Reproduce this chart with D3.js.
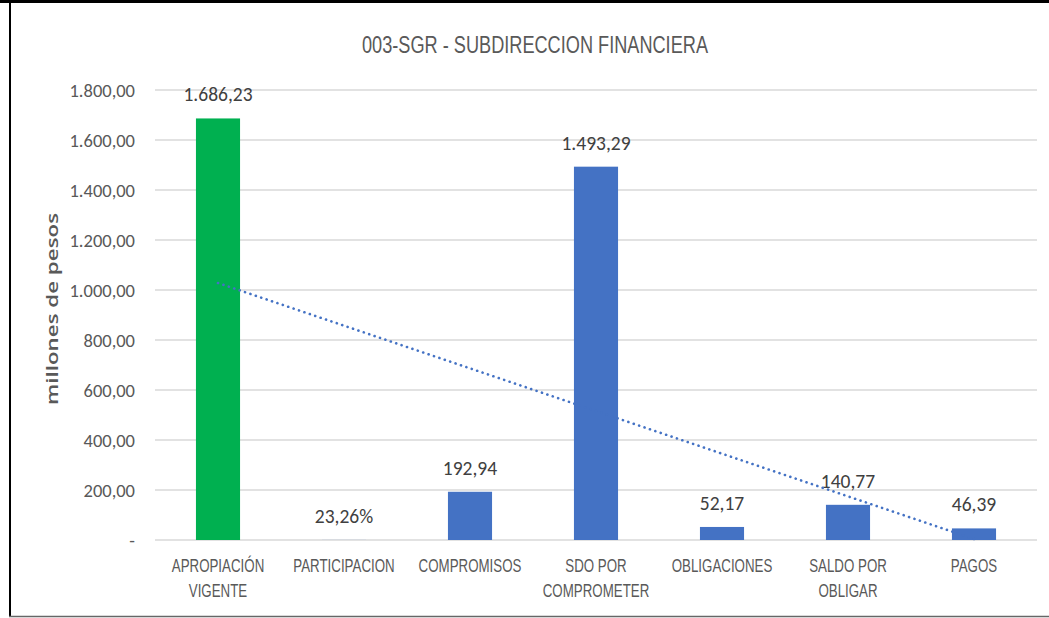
<!DOCTYPE html>
<html><head><meta charset="utf-8">
<script src="https://cdn.jsdelivr.net/npm/d3@7/dist/d3.min.js"></script>
<style>
body{margin:0;background:#fff;}
svg{display:block;}
</style></head>
<body>
<svg id="chart" width="1049" height="618"></svg>
<script>
const categories = [["APROPIACIÓN","VIGENTE"],["PARTICIPACION"],["COMPROMISOS"],["SDO POR","COMPROMETER"],["OBLIGACIONES"],["SALDO POR","OBLIGAR"],["PAGOS"]];
const values = [1686.23, 0.2326, 192.94, 1493.29, 52.17, 140.77, 46.39];
const valueLabels = ["1.686,23","23,26%","192,94","1.493,29","52,17","140,77","46,39"];
const barColors = ["#00B050","#4472C4","#4472C4","#4472C4","#4472C4","#4472C4","#4472C4"];
const yTicks = [0,200,400,600,800,1000,1200,1400,1600,1800];
const yTickLabels = ["-","200,00","400,00","600,00","800,00","1.000,00","1.200,00","1.400,00","1.600,00","1.800,00"];
const title = "003-SGR - SUBDIRECCION FINANCIERA";
const yTitle = "millones de pesos";

const svg = d3.select("#chart");
const W = 1049, H = 618;
const m = {left:155, right:12, top:90, bottom:78};
const sans = '"Liberation Sans",Arial,sans-serif';
const calib = 'Carlito, Calibri, "Open Sans", sans-serif';

// frame
svg.append("line").attr("x1",0).attr("x2",W).attr("y1",1.5).attr("y2",1.5).attr("stroke","#000").attr("stroke-width",3);
svg.append("line").attr("x1",10).attr("x2",10).attr("y1",0).attr("y2",617).attr("stroke","#000").attr("stroke-width",2);
svg.append("line").attr("x1",9).attr("x2",W).attr("y1",616.5).attr("y2",616.5).attr("stroke","#666").attr("stroke-width",1.5);

const x = d3.scaleBand().domain(d3.range(values.length)).range([m.left, W - m.right]).paddingInner(0.65).paddingOuter(0.325);
const y = d3.scaleLinear().domain([0,1800]).range([H - m.bottom, m.top]);

// gridlines
svg.append("g").selectAll("line").data(yTicks).join("line")
  .attr("x1", m.left).attr("x2", W - m.right)
  .attr("y1", d=>y(d)).attr("y2", d=>y(d))
  .attr("stroke","#D9D9D9").attr("stroke-width",1.5);

// y axis labels
const yAxis = d3.axisLeft(y).tickValues(yTicks).tickFormat((d,i)=>yTickLabels[i]).tickSize(0).tickPadding(20);
const ga = svg.append("g").attr("transform",`translate(${m.left},0)`).call(yAxis);
ga.select(".domain").remove();
ga.selectAll("text").attr("font-family",calib).attr("font-size",18.5).attr("fill","#595959").attr("dy","0.34em");

// bars
svg.append("g").selectAll("rect").data(values).join("rect")
  .attr("x",(d,i)=>x(i)).attr("width",x.bandwidth())
  .attr("y",d=>y(d)).attr("height",d=>y(0)-y(d))
  .attr("fill",(d,i)=>barColors[i]);

// value labels
svg.append("g").selectAll("text").data(values).join("text")
  .attr("x",(d,i)=>x(i)+x.bandwidth()/2).attr("y",d=>y(d)-17)
  .attr("text-anchor","middle").attr("font-family",calib).attr("font-size",19.5).attr("fill","#404040")
  .text((d,i)=>valueLabels[i]);

// category labels (condensed)
const cg = svg.append("g").selectAll("g").data(categories).join("g")
  .attr("transform",(d,i)=>`translate(${x(i)+x.bandwidth()/2},${y(0)+32}) scale(0.74,1)`);
cg.selectAll("text").data(d=>d).join("text")
  .attr("x",0).attr("y",(d,i)=>i*25)
  .attr("text-anchor","middle").attr("font-family",sans).attr("font-size",18).attr("fill","#595959")
  .text(d=>d);

// linear trendline (least squares on index)
const n = values.length;
const xs = d3.range(1,n+1);
const mx = d3.mean(xs), my = d3.mean(values);
const slope = d3.sum(xs.map((xv,i)=>(xv-mx)*(values[i]-my))) / d3.sum(xs.map(xv=>(xv-mx)*(xv-mx)));
const icpt = my - slope*mx;
const trend = xs.map((xv,i)=>[x(i)+x.bandwidth()/2, y(icpt+slope*xv)]);
svg.append("path").attr("d", d3.line()([trend[0], trend[n-1]]))
  .attr("fill","none").attr("stroke","#4472C4").attr("stroke-width",2.6)
  .attr("stroke-dasharray","0.1 5.6").attr("stroke-linecap","round");

// title
svg.append("text").attr("x",535).attr("y",53).attr("text-anchor","middle")
  .attr("font-family",sans).attr("font-size",23).attr("fill","#595959")
  .attr("textLength",346).attr("lengthAdjust","spacingAndGlyphs").text(title);

// y title
svg.append("text").attr("transform",`translate(58,309) rotate(-90)`).attr("text-anchor","middle")
  .attr("font-family",'"Open Sans",sans-serif').attr("font-size",16.5).attr("font-weight",600).attr("fill","#595959")
  .attr("textLength",192).attr("lengthAdjust","spacingAndGlyphs").text(yTitle);
</script>
</body></html>
